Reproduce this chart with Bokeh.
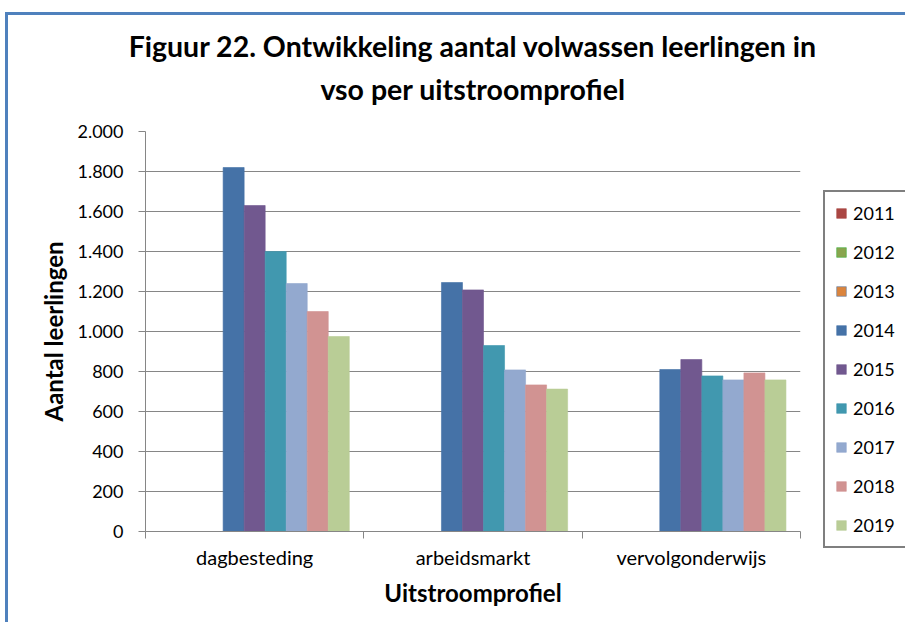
import math
from bokeh.plotting import figure
from bokeh.models import ColumnDataSource, FixedTicker, Range1d, LinearAxis, Legend, LegendItem
from bokeh.transform import dodge
from bokeh.embed import file_html
from bokeh.resources import INLINE

# ---- data ----
categories = ["dagbesteding", "arbeidsmarkt", "vervolgonderwijs"]
years = ["2011", "2012", "2013", "2014", "2015", "2016", "2017", "2018", "2019"]
nan = float("nan")
y2011 = [nan, nan, nan]
y2012 = [nan, nan, nan]
y2013 = [nan, nan, nan]
y2014 = [1820, 1245, 810]
y2015 = [1630, 1208, 860]
y2016 = [1400, 930, 778]
y2017 = [1240, 808, 758]
y2018 = [1100, 733, 793]
y2019 = [975, 712, 758]
y_ticks = [0, 200, 400, 600, 800, 1000, 1200, 1400, 1600, 1800, 2000]
y_tick_labels = ["0", "200", "400", "600", "800", "1.000", "1.200", "1.400", "1.600", "1.800", "2.000"]
title_lines = ["Figuur 22. Ontwikkeling aantal volwassen leerlingen in", "vso per uitstroomprofiel"]

series = [y2011, y2012, y2013, y2014, y2015, y2016, y2017, y2018, y2019]
colors = ["#AA4643", "#89A54E", "#DB843D", "#4572A7", "#71588F", "#4198AF", "#93A9CF", "#D19392", "#B9CD96"]
edge = ["#AA4643", "#3DB03D", "#5B7BA6", "#4572A7", "#71588F", "#4198AF", "#93A9CF", "#D19392", "#B9CD96"]

FONT = "Lato"
GREY = "#868686"
BLUE = "#4F81BD"

p = figure(frame_width=655, frame_height=400, output_backend="svg", toolbar_location=None,
           x_range=Range1d(0, 3), y_range=Range1d(0, 2000),
           min_border_left=145, min_border_right=0, min_border_top=131, min_border_bottom=91)
p.outline_line_color = None
p.background_fill_color = "white"
p.border_fill_alpha = 0
p.styles = {
    "background-color": "white",
    "background-image": f"linear-gradient({BLUE},{BLUE}), linear-gradient({BLUE},{BLUE})",
    "background-size": "3px 100%, 100% 3px",
    "background-position": "5px 12px, 5px 12px",
    "background-repeat": "no-repeat",
}

centers = [i + 0.5 for i in range(len(categories))]
bw = 0.0963
items = []
for j, (yr, vals) in enumerate(zip(years, series)):
    src = ColumnDataSource(dict(x=centers, top=vals, cat=categories))
    r = p.vbar(x=dodge("x", (j - 4) * bw), top="top", bottom=0, width=bw, source=src,
               fill_color=colors[j], line_color=edge[j], line_width=1, line_alpha=0.6)
    items.append(LegendItem(label=yr, renderers=[r]))

# x axis
p.xgrid.visible = False
p.xaxis.ticker = FixedTicker(ticks=centers, minor_ticks=[0, 1, 2, 3])
p.xaxis.major_label_overrides = {c: n for c, n in zip(centers, categories)}
p.xaxis.major_tick_out = 0
p.xaxis.major_tick_in = 0
p.xaxis.minor_tick_out = 7
p.xaxis.minor_tick_in = 0
p.xaxis.axis_line_color = GREY
p.xaxis.minor_tick_line_color = GREY
p.xaxis.major_label_text_font = FONT
p.xaxis.major_label_text_font_size = "20px"
p.xaxis.major_label_text_color = "black"
p.xaxis.major_label_standoff = 6
p.xaxis.axis_label = "Uitstroomprofiel"
p.xaxis.axis_label_text_font = FONT
p.xaxis.axis_label_text_font_size = "24px"
p.xaxis.axis_label_text_font_style = "bold"
p.xaxis.axis_label_text_color = "black"
p.xaxis.axis_label_standoff = 6

# y axis
p.yaxis.ticker = FixedTicker(ticks=y_ticks, minor_ticks=[])
p.yaxis.major_label_overrides = {t: l for t, l in zip(y_ticks, y_tick_labels)}
p.yaxis.major_tick_out = 7
p.yaxis.major_tick_in = 0
p.yaxis.axis_line_color = GREY
p.yaxis.major_tick_line_color = GREY
p.yaxis.major_label_text_font = FONT
p.yaxis.major_label_text_font_size = "18px"
p.yaxis.major_label_text_color = "black"
p.yaxis.major_label_standoff = 15
p.yaxis.axis_label = "Aantal leerlingen"
p.yaxis.axis_label_text_font = FONT
p.yaxis.axis_label_text_font_size = "24px"
p.yaxis.axis_label_text_font_style = "bold"
p.yaxis.axis_label_text_color = "black"
p.yaxis.axis_label_standoff = 6
p.ygrid.grid_line_color = GREY
p.ygrid.grid_line_width = 1

# two title lines, each centred, carried by tick-less axes above the frame
for txt, so in [(title_lines[1], 26), (title_lines[0], 6)]:
    ax = LinearAxis(ticker=FixedTicker(ticks=[], minor_ticks=[]), axis_label=txt,
                    axis_line_color=None, major_tick_line_color=None, minor_tick_line_color=None,
                    major_tick_out=0, major_tick_in=0, minor_tick_out=0, minor_tick_in=0,
                    major_label_standoff=0, axis_label_standoff=so,
                    axis_label_text_font=FONT, axis_label_text_font_size="28.5px",
                    axis_label_text_font_style="bold", axis_label_text_color="black")
    p.add_layout(ax, "above")

legend = Legend(items=items, location=(23, -17),
                label_text_font=FONT, label_text_font_size="18px", label_text_color="black",
                glyph_width=12, glyph_height=12, label_height=20, label_standoff=6,
                spacing=17, padding=10, margin=0,
                border_line_color="black", border_line_width=2,
                background_fill_color="white", background_fill_alpha=1)
p.add_layout(legend, "right")

open("out.html", "w").write(file_html(p, INLINE))
